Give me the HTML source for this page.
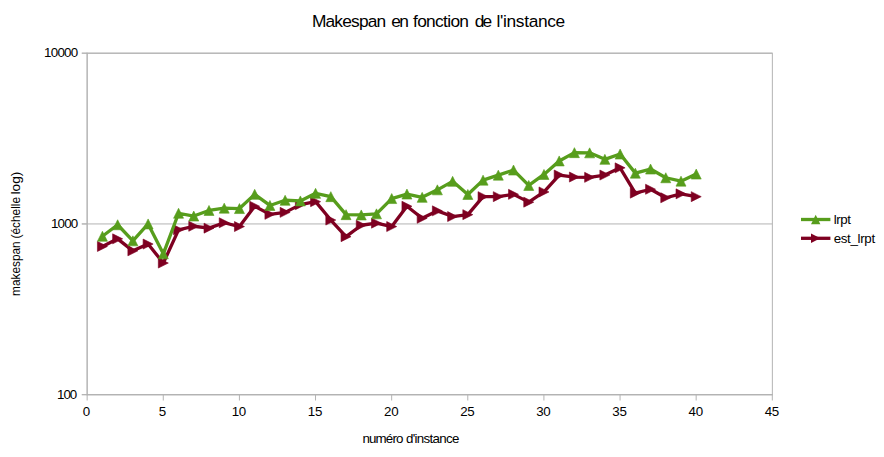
<!DOCTYPE html>
<html><head><meta charset="utf-8"><title>Makespan en fonction de l'instance</title>
<style>
html,body{margin:0;padding:0;background:#fff;}
body{width:884px;height:457px;overflow:hidden;font-family:"Liberation Sans",sans-serif;}
svg{display:block;}
text{font-family:"Liberation Sans",sans-serif;fill:#000;}
</style></head><body>
<svg width="884" height="457" viewBox="0 0 884 457">
<rect x="0" y="0" width="884" height="457" fill="#ffffff"/>

<text x="311.9" y="27.2" font-size="17.33" textLength="74.3" lengthAdjust="spacing">Makespan</text>
<text x="391.2" y="27.2" font-size="17.33" textLength="17.6" lengthAdjust="spacing">en</text>
<text x="413.0" y="27.2" font-size="17.33" textLength="56.0" lengthAdjust="spacing">fonction</text>
<text x="474.8" y="27.2" font-size="17.33" textLength="17.3" lengthAdjust="spacing">de</text>
<text x="496.6" y="27.2" font-size="17.33" textLength="68.6" lengthAdjust="spacing">l'instance</text>
<g stroke="#b3b3b3" stroke-width="1" fill="none">
<line x1="87.15" y1="53.2" x2="772.35" y2="53.2"/>
<line x1="87.15" y1="223.95" x2="772.35" y2="223.95"/>
<line x1="87.15" y1="394.7" x2="772.35" y2="394.7"/>
<rect x="87.15" y="53.2" width="685.20" height="341.50"/>
<line x1="87.15" y1="52.7" x2="87.15" y2="395.2"/>
<line x1="86.65" y1="394.7" x2="772.85" y2="394.7"/>
<line x1="81.8" y1="53.2" x2="87.15" y2="53.2"/>
<line x1="81.8" y1="53.2" x2="87.15" y2="53.2"/>
<line x1="81.8" y1="223.95" x2="87.15" y2="223.95"/>
<line x1="81.8" y1="223.95" x2="87.15" y2="223.95"/>
<line x1="81.8" y1="394.7" x2="87.15" y2="394.7"/>
<line x1="81.8" y1="394.7" x2="87.15" y2="394.7"/>
<line x1="87.15" y1="394.7" x2="87.15" y2="400.5"/>
<line x1="163.28" y1="394.7" x2="163.28" y2="400.5"/>
<line x1="239.41" y1="394.7" x2="239.41" y2="400.5"/>
<line x1="315.53" y1="394.7" x2="315.53" y2="400.5"/>
<line x1="391.66" y1="394.7" x2="391.66" y2="400.5"/>
<line x1="467.79" y1="394.7" x2="467.79" y2="400.5"/>
<line x1="543.92" y1="394.7" x2="543.92" y2="400.5"/>
<line x1="620.05" y1="394.7" x2="620.05" y2="400.5"/>
<line x1="696.17" y1="394.7" x2="696.17" y2="400.5"/>
<line x1="772.30" y1="394.7" x2="772.30" y2="400.5"/>
</g>
<text x="78.2" y="57.2" font-size="13.33" text-anchor="end" textLength="34.2" lengthAdjust="spacing">10000</text>
<text x="78.2" y="228.0" font-size="13.33" text-anchor="end" textLength="27.3" lengthAdjust="spacing">1000</text>
<text x="77.1" y="399.2" font-size="13.33" text-anchor="end" textLength="20.0" lengthAdjust="spacing">100</text>
<text x="86.4" y="416.2" font-size="13.33" text-anchor="middle" textLength="6.9" lengthAdjust="spacing">0</text>
<text x="162.5" y="416.2" font-size="13.33" text-anchor="middle" textLength="6.9" lengthAdjust="spacing">5</text>
<text x="239.0" y="416.2" font-size="13.33" text-anchor="middle" textLength="14.5" lengthAdjust="spacing">10</text>
<text x="315.1" y="416.2" font-size="13.33" text-anchor="middle" textLength="14.5" lengthAdjust="spacing">15</text>
<text x="391.3" y="416.2" font-size="13.33" text-anchor="middle" textLength="14.5" lengthAdjust="spacing">20</text>
<text x="467.4" y="416.2" font-size="13.33" text-anchor="middle" textLength="14.5" lengthAdjust="spacing">25</text>
<text x="543.5" y="416.2" font-size="13.33" text-anchor="middle" textLength="14.5" lengthAdjust="spacing">30</text>
<text x="619.6" y="416.2" font-size="13.33" text-anchor="middle" textLength="14.5" lengthAdjust="spacing">35</text>
<text x="695.8" y="416.2" font-size="13.33" text-anchor="middle" textLength="14.5" lengthAdjust="spacing">40</text>
<text x="771.9" y="416.2" font-size="13.33" text-anchor="middle" textLength="14.5" lengthAdjust="spacing">45</text>
<text x="362.4" y="442.9" font-size="13.33" textLength="41.1" lengthAdjust="spacing">numéro</text>
<text x="405.9" y="442.9" font-size="13.33" textLength="53.6" lengthAdjust="spacing">d'instance</text>
<g transform="translate(19.9,0) rotate(-90)" font-size="13.33"><text x="-295.9" y="0" textLength="54.6" lengthAdjust="spacingAndGlyphs">makespan</text><text x="-238.5" y="0" textLength="41.6" lengthAdjust="spacingAndGlyphs">(échelle</text><text x="-194.6" y="0" textLength="23.0" lengthAdjust="spacingAndGlyphs">log)</text></g>
<polyline points="102.43,246.45 117.65,238.85 132.88,250.85 148.10,244.05 163.33,263.05 178.55,229.85 193.78,226.25 209.00,228.15 224.23,222.75 239.46,226.55 254.68,206.25 269.91,214.35 285.13,212.35 300.36,204.65 315.58,201.65 330.81,220.05 346.04,236.65 361.26,225.25 376.49,223.15 391.71,226.55 406.94,206.25 422.16,218.25 437.39,210.85 452.61,216.55 467.84,214.65 483.07,196.65 498.29,196.65 513.52,194.35 528.74,202.15 543.97,191.95 559.19,175.05 574.42,177.05 589.64,177.35 604.87,175.05 620.10,167.85 635.32,193.15 650.55,189.25 665.77,197.75 681.00,193.85 696.22,196.65" fill="none" stroke="#7e0021" stroke-width="3.3" stroke-linejoin="round"/>
<g fill="#7e0021" stroke="#7e0021" stroke-width="0.6" stroke-linejoin="miter"><polygon points="97.43,241.45 107.43,246.45 97.43,251.45"/><polygon points="112.65,233.85 122.65,238.85 112.65,243.85"/><polygon points="127.88,245.85 137.88,250.85 127.88,255.85"/><polygon points="143.10,239.05 153.10,244.05 143.10,249.05"/><polygon points="158.33,258.05 168.33,263.05 158.33,268.05"/><polygon points="173.55,224.85 183.55,229.85 173.55,234.85"/><polygon points="188.78,221.25 198.78,226.25 188.78,231.25"/><polygon points="204.00,223.15 214.00,228.15 204.00,233.15"/><polygon points="219.23,217.75 229.23,222.75 219.23,227.75"/><polygon points="234.46,221.55 244.46,226.55 234.46,231.55"/><polygon points="249.68,201.25 259.68,206.25 249.68,211.25"/><polygon points="264.91,209.35 274.91,214.35 264.91,219.35"/><polygon points="280.13,207.35 290.13,212.35 280.13,217.35"/><polygon points="295.36,199.65 305.36,204.65 295.36,209.65"/><polygon points="310.58,196.65 320.58,201.65 310.58,206.65"/><polygon points="325.81,215.05 335.81,220.05 325.81,225.05"/><polygon points="341.04,231.65 351.04,236.65 341.04,241.65"/><polygon points="356.26,220.25 366.26,225.25 356.26,230.25"/><polygon points="371.49,218.15 381.49,223.15 371.49,228.15"/><polygon points="386.71,221.55 396.71,226.55 386.71,231.55"/><polygon points="401.94,201.25 411.94,206.25 401.94,211.25"/><polygon points="417.16,213.25 427.16,218.25 417.16,223.25"/><polygon points="432.39,205.85 442.39,210.85 432.39,215.85"/><polygon points="447.61,211.55 457.61,216.55 447.61,221.55"/><polygon points="462.84,209.65 472.84,214.65 462.84,219.65"/><polygon points="478.07,191.65 488.07,196.65 478.07,201.65"/><polygon points="493.29,191.65 503.29,196.65 493.29,201.65"/><polygon points="508.52,189.35 518.52,194.35 508.52,199.35"/><polygon points="523.74,197.15 533.74,202.15 523.74,207.15"/><polygon points="538.97,186.95 548.97,191.95 538.97,196.95"/><polygon points="554.19,170.05 564.19,175.05 554.19,180.05"/><polygon points="569.42,172.05 579.42,177.05 569.42,182.05"/><polygon points="584.64,172.35 594.64,177.35 584.64,182.35"/><polygon points="599.87,170.05 609.87,175.05 599.87,180.05"/><polygon points="615.10,162.85 625.10,167.85 615.10,172.85"/><polygon points="630.32,188.15 640.32,193.15 630.32,198.15"/><polygon points="645.55,184.25 655.55,189.25 645.55,194.25"/><polygon points="660.77,192.75 670.77,197.75 660.77,202.75"/><polygon points="676.00,188.85 686.00,193.85 676.00,198.85"/><polygon points="691.22,191.65 701.22,196.65 691.22,201.65"/></g>
<polyline points="102.43,236.25 117.65,224.75 132.88,240.85 148.10,223.95 163.33,253.85 178.55,213.25 193.78,216.05 209.00,210.45 224.23,208.15 239.46,208.55 254.68,194.35 269.91,205.45 285.13,200.25 300.36,200.95 315.58,193.35 330.81,196.65 346.04,214.65 361.26,214.95 376.49,213.85 391.71,198.55 406.94,194.05 422.16,197.35 437.39,189.85 452.61,181.35 467.84,194.45 483.07,180.15 498.29,175.15 513.52,170.05 528.74,185.45 543.97,174.45 559.19,160.95 574.42,152.65 589.64,152.85 604.87,159.35 620.10,154.05 635.32,173.15 650.55,169.05 665.77,177.75 681.00,181.15 696.22,174.05" fill="none" stroke="#579d1c" stroke-width="3.3" stroke-linejoin="round"/>
<g fill="#579d1c" stroke="#579d1c" stroke-width="0.6" stroke-linejoin="miter"><polygon points="102.43,231.25 107.43,241.25 97.43,241.25"/><polygon points="117.65,219.75 122.65,229.75 112.65,229.75"/><polygon points="132.88,235.85 137.88,245.85 127.88,245.85"/><polygon points="148.10,218.95 153.10,228.95 143.10,228.95"/><polygon points="163.33,248.85 168.33,258.85 158.33,258.85"/><polygon points="178.55,208.25 183.55,218.25 173.55,218.25"/><polygon points="193.78,211.05 198.78,221.05 188.78,221.05"/><polygon points="209.00,205.45 214.00,215.45 204.00,215.45"/><polygon points="224.23,203.15 229.23,213.15 219.23,213.15"/><polygon points="239.46,203.55 244.46,213.55 234.46,213.55"/><polygon points="254.68,189.35 259.68,199.35 249.68,199.35"/><polygon points="269.91,200.45 274.91,210.45 264.91,210.45"/><polygon points="285.13,195.25 290.13,205.25 280.13,205.25"/><polygon points="300.36,195.95 305.36,205.95 295.36,205.95"/><polygon points="315.58,188.35 320.58,198.35 310.58,198.35"/><polygon points="330.81,191.65 335.81,201.65 325.81,201.65"/><polygon points="346.04,209.65 351.04,219.65 341.04,219.65"/><polygon points="361.26,209.95 366.26,219.95 356.26,219.95"/><polygon points="376.49,208.85 381.49,218.85 371.49,218.85"/><polygon points="391.71,193.55 396.71,203.55 386.71,203.55"/><polygon points="406.94,189.05 411.94,199.05 401.94,199.05"/><polygon points="422.16,192.35 427.16,202.35 417.16,202.35"/><polygon points="437.39,184.85 442.39,194.85 432.39,194.85"/><polygon points="452.61,176.35 457.61,186.35 447.61,186.35"/><polygon points="467.84,189.45 472.84,199.45 462.84,199.45"/><polygon points="483.07,175.15 488.07,185.15 478.07,185.15"/><polygon points="498.29,170.15 503.29,180.15 493.29,180.15"/><polygon points="513.52,165.05 518.52,175.05 508.52,175.05"/><polygon points="528.74,180.45 533.74,190.45 523.74,190.45"/><polygon points="543.97,169.45 548.97,179.45 538.97,179.45"/><polygon points="559.19,155.95 564.19,165.95 554.19,165.95"/><polygon points="574.42,147.65 579.42,157.65 569.42,157.65"/><polygon points="589.64,147.85 594.64,157.85 584.64,157.85"/><polygon points="604.87,154.35 609.87,164.35 599.87,164.35"/><polygon points="620.10,149.05 625.10,159.05 615.10,159.05"/><polygon points="635.32,168.15 640.32,178.15 630.32,178.15"/><polygon points="650.55,164.05 655.55,174.05 645.55,174.05"/><polygon points="665.77,172.75 670.77,182.75 660.77,182.75"/><polygon points="681.00,176.15 686.00,186.15 676.00,186.15"/><polygon points="696.22,169.05 701.22,179.05 691.22,179.05"/></g>
<line x1="801" y1="219.5" x2="830.4" y2="219.5" stroke="#579d1c" stroke-width="3.3"/>
<g fill="#579d1c"><polygon points="815.70,214.80 820.40,224.20 811.00,224.20"/></g>
<line x1="801" y1="238.3" x2="830.4" y2="238.3" stroke="#7e0021" stroke-width="3.3"/>
<g fill="#7e0021"><polygon points="811.00,233.60 820.40,238.30 811.00,243.00"/></g>
<text x="833.7" y="223.8" font-size="13.33" textLength="17.2" lengthAdjust="spacing">lrpt</text>
<text x="833.7" y="242.6" font-size="13.33" textLength="41.4" lengthAdjust="spacing">est_lrpt</text>
</svg></body></html>
